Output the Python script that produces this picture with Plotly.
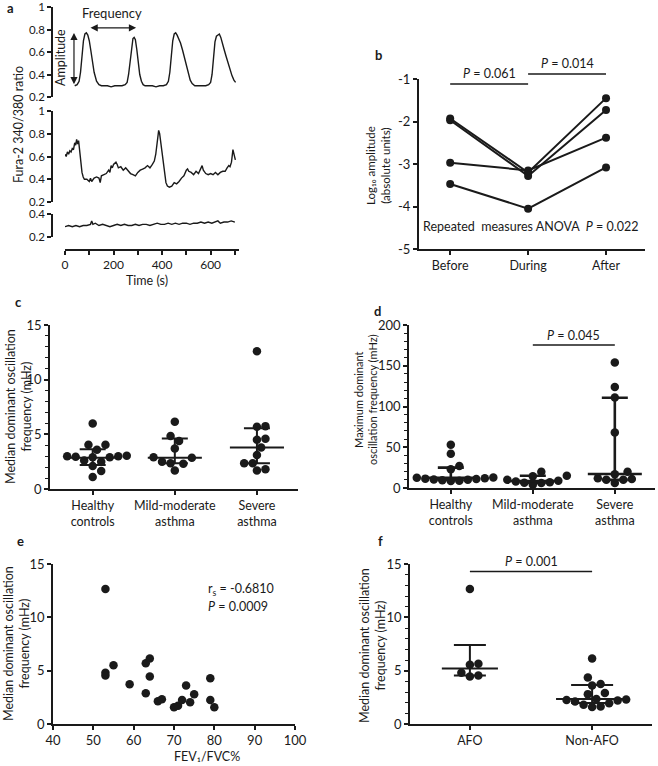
import plotly.graph_objects as go

# ---------------- data ----------------
# panel a: Fura-2 340/380 ratio traces
a_t1 = [40, 50, 58, 64, 70, 76, 82, 88, 94, 100, 106, 112, 120, 130, 140, 150, 160, 175, 190, 205,
        220, 235, 248, 256, 262, 268, 274, 280, 285, 290, 296, 302, 308, 315, 322, 330, 345, 360, 375, 390,
        405, 418, 426, 432, 438, 444, 450, 456, 462, 468, 476, 484, 492, 500, 508, 516, 524, 535, 550, 565,
        580, 592, 600, 606, 612, 618, 624, 630, 636, 642, 648, 656, 664, 672, 680, 688, 696, 703]
a_v1 = [0.30, 0.31, 0.34, 0.42, 0.56, 0.70, 0.76, 0.77, 0.75, 0.70, 0.62, 0.53, 0.42, 0.34, 0.31, 0.30, 0.30, 0.30, 0.29, 0.30,
        0.30, 0.30, 0.31, 0.33, 0.40, 0.52, 0.65, 0.72, 0.73, 0.71, 0.62, 0.50, 0.40, 0.34, 0.31, 0.30, 0.30, 0.30, 0.29, 0.30,
        0.30, 0.31, 0.34, 0.42, 0.56, 0.70, 0.76, 0.77, 0.75, 0.72, 0.68, 0.62, 0.55, 0.47, 0.40, 0.35, 0.32, 0.30, 0.30, 0.30,
        0.30, 0.31, 0.33, 0.40, 0.55, 0.69, 0.74, 0.75, 0.76, 0.73, 0.67, 0.62, 0.56, 0.50, 0.44, 0.39, 0.35, 0.33]
a_t2 = [0, 5, 10, 15, 20, 25, 30, 35, 40, 44, 48, 52, 56, 60, 65, 70, 75, 80, 90, 100,
        105, 110, 120, 130, 140, 145, 150, 160, 170, 180, 185, 190, 195, 200, 210, 215, 220, 230, 240, 250,
        260, 270, 280, 290, 300, 310, 320, 330, 340, 350, 360, 368, 374, 380, 386, 390, 395, 400, 405, 410,
        416, 422, 430, 440, 450, 460, 470, 480, 490, 500, 505, 510, 520, 530, 540, 550, 560, 565, 570, 580,
        590, 600, 610, 620, 630, 640, 650, 660, 668, 675, 680, 686, 692, 697, 702]
a_v2 = [0.62, 0.60, 0.64, 0.62, 0.65, 0.64, 0.67, 0.66, 0.72, 0.70, 0.75, 0.71, 0.74, 0.66, 0.55, 0.46, 0.42, 0.40, 0.40, 0.38,
        0.41, 0.38, 0.41, 0.42, 0.41, 0.37, 0.43, 0.44, 0.45, 0.48, 0.46, 0.52, 0.50, 0.53, 0.55, 0.53, 0.50, 0.51, 0.48, 0.50,
        0.47, 0.45, 0.44, 0.43, 0.46, 0.48, 0.49, 0.50, 0.52, 0.50, 0.53, 0.56, 0.62, 0.72, 0.83, 0.80, 0.72, 0.62, 0.52, 0.44,
        0.37, 0.34, 0.33, 0.34, 0.37, 0.36, 0.38, 0.41, 0.43, 0.48, 0.49, 0.47, 0.46, 0.44, 0.47, 0.45, 0.50, 0.52, 0.48, 0.45,
        0.44, 0.45, 0.44, 0.46, 0.44, 0.46, 0.47, 0.47, 0.50, 0.52, 0.51, 0.55, 0.66, 0.62, 0.57]
a_t3 = [0, 15, 30, 45, 60, 75, 90, 105, 110, 115, 125, 140, 155, 170, 185, 200, 215, 230, 245, 260,
        275, 290, 305, 320, 335, 350, 365, 380, 395, 410, 425, 440, 455, 470, 485, 500, 515, 530, 545, 560,
        575, 590, 605, 620, 630, 640, 655, 670, 685, 700]
a_v3 = [0.29, 0.30, 0.29, 0.30, 0.29, 0.30, 0.30, 0.31, 0.34, 0.31, 0.32, 0.30, 0.31, 0.30, 0.29, 0.30, 0.31, 0.30, 0.31, 0.30,
        0.30, 0.31, 0.30, 0.31, 0.31, 0.30, 0.31, 0.32, 0.31, 0.31, 0.32, 0.31, 0.32, 0.31, 0.32, 0.32, 0.31, 0.32, 0.32, 0.33,
        0.32, 0.33, 0.32, 0.33, 0.34, 0.32, 0.33, 0.33, 0.34, 0.33]
a_time_ticks = [0, 100, 200, 300, 400, 500, 600, 700]
a_time_labels = ['0', '', '200', '', '400', '', '600', '']
a_ratio_ticks = [0.2, 0.4, 0.6, 0.8, 1.0]
a_ratio_labels = ['0.2', '0.4', '0.6', '0.8', '1']
a_amp_low, a_amp_high, a_amp_time = 0.30, 0.77, 37
a_freq_start, a_freq_end, a_freq_level = 99, 293, 0.815

# panel b: log10 amplitude, before / during / after
b_phases = ['Before', 'During', 'After']
b_subject1 = [-1.93, -3.20, -1.45]
b_subject2 = [-1.97, -3.28, -1.73]
b_subject3 = [-2.97, -3.15, -2.38]
b_subject4 = [-3.47, -4.05, -3.08]
b_yticks = [-1, -2, -3, -4, -5]

# panel c: median dominant oscillation frequency (mHz)
c_groups = ['Healthy<br>controls', 'Mild-moderate<br>asthma', 'Severe<br>asthma']
c_healthy = [6.0, 4.05, 4.05, 3.6, 3.05, 3.0, 3.0, 2.95, 2.9, 2.9, 2.6, 2.5, 2.1, 1.65, 1.1]
c_mild = [6.15, 4.85, 4.4, 3.7, 2.9, 2.85, 2.5, 2.35, 2.3, 1.7]
c_severe = [12.6, 5.75, 5.7, 4.6, 4.5, 3.8, 3.1, 2.35, 2.35, 1.8, 1.7]
c_median = [2.86, 2.86, 3.8]
c_q1 = [2.2, 2.35, 2.35]
c_q3 = [3.63, 4.63, 5.55]

# panel d: maximum dominant oscillation frequency (mHz)
d_groups = ['Healthy<br>controls', 'Mild-moderate<br>asthma', 'Severe<br>asthma']
d_healthy = [53, 42, 27, 23, 14, 13, 12.5, 12, 11.5, 11, 10.5, 10, 9.5, 9, 8.5]
d_mild = [20, 15, 14.5, 10, 9, 8, 7, 6.5, 6, 4]
d_severe = [154, 124, 111, 68, 20, 17, 12, 11, 10, 10, 6]
d_median = [12.5, 8.6, 17.2]
d_q1 = [10, 6.5, 10]
d_q3 = [25, 15, 110.8]
d_p_level = 175.5

# panel e: FEV1/FVC% vs median frequency
e_fev = [53, 53, 53, 55, 59, 63, 64, 64, 63, 66, 67, 70, 71, 72, 73, 74, 75, 79, 79, 80]
e_freq = [12.65, 4.8, 4.55, 5.5, 3.73, 5.7, 6.15, 4.45, 2.88, 2.13, 2.32, 1.57, 1.72, 2.25, 3.6, 2.04, 2.79, 4.29, 2.25, 1.57]

# panel f: AFO vs non-AFO
f_groups = ['AFO', 'Non-AFO']
f_afo = [12.65, 5.65, 5.55, 4.8, 4.55, 4.45]
f_non = [6.15, 4.35, 3.75, 3.6, 2.9, 2.8, 2.35, 2.3, 2.25, 2.2, 2.1, 1.95, 1.8, 1.65, 1.6]
f_median = [5.2, 2.35]
f_q1 = [4.55, 1.97]
f_q3 = [7.4, 3.66]
f_p_level = 14.3

# ---------------- helpers ----------------
W, H = 658, 766
FONT = 'Lato'
INK = '#1a1a1a'


def fx(p):
    return p / W


def fy(p):
    return 1 - p / H


def dx(a, b):
    return [a / W, b / W]


def dy(top, bot):
    return [1 - bot / H, 1 - top / H]


def swarm(vals, center, ypx, xpx, d=8.5):
    """Simple beeswarm: offsets computed so markers do not overlap."""
    placed = []
    xs = [center] * len(vals)
    order = sorted(range(len(vals)), key=lambda i: vals[i])
    cands = [0.0]
    for j in range(1, 30):
        cands += [j * d * 0.5, -j * d * 0.5]
    for i in order:
        y = vals[i] * ypx
        for off in cands:
            if all((off - px) ** 2 + (y - py) ** 2 >= (d * 0.97) ** 2 for px, py in placed):
                placed.append((off, y))
                xs[i] = center + off / xpx
                break
    return xs


def axis(**kw):
    base = dict(showgrid=False, zeroline=False, showline=True, linecolor=INK, linewidth=1.5,
                ticks='outside', ticklen=4, tickwidth=1.5, tickcolor=INK, automargin=False,
                ticklabeloverflow='allow',
                tickfont=dict(family=FONT, size=13, color=INK), fixedrange=True)
    base.update(kw)
    return base


fig = go.Figure()

# ---------------- panel a ----------------
for t, v, ya in [(a_t1, a_v1, 'y'), (a_t2, a_v2, 'y2'), (a_t3, a_v3, 'y3')]:
    fig.add_trace(go.Scatter(x=t, y=v, mode='lines', line=dict(color=INK, width=1.4),
                             xaxis='x', yaxis=ya, hoverinfo='skip'))

# ---------------- panel b ----------------
b_pos = list(range(len(b_phases)))
for s in [b_subject1, b_subject2, b_subject3, b_subject4]:
    fig.add_trace(go.Scatter(x=b_pos, y=s, mode='lines+markers', line=dict(color=INK, width=2),
                             marker=dict(color=INK, size=8), xaxis='x2', yaxis='y4', cliponaxis=False))


# ---------------- scatter-dot panels ----------------
def dot_panel(sets, med, q1, q3, xa, ya, ypx, xpx, halfw_px, cap_px, thick):
    for i, vals in enumerate(sets):
        xs = swarm(vals, i, ypx, xpx)
        fig.add_trace(go.Scatter(x=xs, y=vals, mode='markers', marker=dict(color=INK, size=8.5),
                                 xaxis=xa, yaxis=ya, cliponaxis=False))
    for i in range(len(sets)):
        hw = halfw_px[i] if isinstance(halfw_px, list) else halfw_px
        cp = cap_px[i] if isinstance(cap_px, list) else cap_px
        fig.add_trace(go.Scatter(
            x=[i], y=[med[i]], mode='markers', marker=dict(size=1, opacity=0),
            error_y=dict(type='data', symmetric=False, array=[q3[i] - med[i]], arrayminus=[med[i] - q1[i]],
                         width=cp, thickness=thick, color=INK),
            error_x=dict(type='constant', value=hw / xpx, width=0, thickness=thick, color=INK),
            xaxis=xa, yaxis=ya, cliponaxis=False))


dot_panel([c_healthy, c_mild, c_severe], c_median, c_q1, c_q3, 'x3', 'y5', 164 / 15, 82, 27, 13, 2)
dot_panel([d_healthy, d_mild, d_severe], d_median, d_q1, d_q3, 'x4', 'y6', 163 / 200, 82, 27, 13, 2.6)
dot_panel([f_afo, f_non], f_median, f_q1, f_q3, 'x6', 'y8', 160 / 15, 122, [28, 36], [16, 21], 2)

# ---------------- panel e ----------------
fig.add_trace(go.Scatter(x=e_fev, y=e_freq, mode='markers', marker=dict(color=INK, size=8.5),
                         xaxis='x5', yaxis='y7', cliponaxis=False))

# ---------------- layout ----------------
minor1 = dict(tickmode='linear', tick0=0, dtick=1, ticks='outside', ticklen=3, tickwidth=1, tickcolor=INK)
minor10 = dict(tickmode='linear', tick0=0, dtick=10, ticks='outside', ticklen=3, tickwidth=1, tickcolor=INK)
cat_font = dict(family=FONT, size=12.5, color=INK)
a_font = dict(family=FONT, size=11.5, color=INK)

layout = dict(
    width=W, height=H, margin=dict(l=0, r=0, t=0, b=0, autoexpand=False),
    paper_bgcolor='white', plot_bgcolor='white', showlegend=False,
    font=dict(family=FONT, color=INK),
    # panel a
    xaxis=axis(domain=dx(65, 239), range=[0, 717], anchor='free', position=fy(250),
               tickmode='array', tickvals=a_time_ticks, ticktext=a_time_labels, tickfont=dict(family=FONT, size=12, color=INK)),
    yaxis=axis(domain=dy(7, 97), range=[0.2, 1.0], anchor='free', position=fx(52),
               tickmode='array', tickvals=a_ratio_ticks, ticktext=a_ratio_labels, tickfont=a_font),
    yaxis2=axis(domain=dy(111, 202), range=[0.2, 1.0], anchor='free', position=fx(52),
                tickmode='array', tickvals=a_ratio_ticks, ticktext=a_ratio_labels, tickfont=a_font),
    yaxis3=axis(domain=dy(214, 237), range=[0.2, 0.4], anchor='free', position=fx(52),
                tickmode='array', tickvals=[0.2, 0.4], ticktext=['0.2', '0.4'], tickfont=a_font),
    # panel b
    xaxis2=axis(domain=dx(419, 645), range=[-0.4, 2.5], anchor='y4', linewidth=2,
                tickmode='array', tickvals=b_pos, ticktext=b_phases, tickfont=cat_font),
    yaxis4=axis(domain=dy(79, 249), range=[-5, -1], anchor='x2', linewidth=2,
                tickmode='array', tickvals=b_yticks, ticktext=[str(v) for v in b_yticks]),
    # panel c
    xaxis3=axis(domain=dx(50, 298), range=[-0.52, 2.5], anchor='y5',
                tickmode='array', tickvals=[0, 1, 2], ticktext=c_groups, tickfont=cat_font),
    yaxis5=axis(domain=dy(325, 489), range=[0, 15], anchor='x3',
                tickmode='array', tickvals=[0, 5, 10, 15], minor=minor1),
    # panel d
    xaxis4=axis(domain=dx(409, 655), range=[-0.51, 2.49], anchor='y6',
                tickmode='array', tickvals=[0, 1, 2], ticktext=d_groups, tickfont=cat_font),
    yaxis6=axis(domain=dy(325, 488), range=[0, 200], anchor='x4',
                tickmode='array', tickvals=[0, 50, 100, 150, 200], minor=minor10),
    # panel e
    xaxis5=axis(domain=dx(53, 295), range=[40, 100], anchor='y7',
                tickmode='array', tickvals=[40, 50, 60, 70, 80, 90, 100]),
    yaxis7=axis(domain=dy(564, 724), range=[0, 15], anchor='x5',
                tickmode='array', tickvals=[0, 5, 10, 15]),
    # panel f
    xaxis6=axis(domain=dx(410, 652), range=[-0.49, 1.49], anchor='y8',
                tickmode='array', tickvals=[0, 1], ticktext=f_groups, tickfont=cat_font),
    yaxis8=axis(domain=dy(564, 724), range=[0, 15], anchor='x6',
                tickmode='array', tickvals=[0, 5, 10, 15], minor=minor1),
)

ann = []


def txt(text, x, y, size=12.5, angle=0, xanchor='center', yanchor='middle', **kw):
    d = dict(text=text, x=x, y=y, xref='paper', yref='paper', showarrow=False, textangle=angle,
             xanchor=xanchor, yanchor=yanchor, font=dict(family=FONT, size=size, color=INK))
    d.update(kw)
    ann.append(d)


# panel letters
for letter, px, py in [('a', 10, 8), ('b', 378, 55), ('c', 18, 302), ('d', 377, 311), ('e', 20, 541), ('f', 380, 541)]:
    txt('<b>%s</b>' % letter, fx(px), fy(py), size=13)

# y-axis titles
txt('Fura-2 340/380 ratio', fx(19), fy(125), size=12.5, angle=-90)
txt('Log₁₀ amplitude<br>(absolute units)', fx(378), fy(166), size=11.5, angle=-90)
txt('Median dominant oscillation<br>frequency (mHz)', fx(18), fy(407), size=12.5, angle=-90)
txt('Maximum dominant<br>oscillation frequency (mHz)', fx(365), fy(399), size=11, angle=-90)
txt('Median dominant oscillation<br>frequency (mHz)', fx(16), fy(644), size=12.5, angle=-90)
txt('Median dominant oscillation<br>frequency (mHz)', fx(372), fy(646), size=12.5, angle=-90)

# x-axis titles
txt('Time (s)', fx(147), fy(280), size=12.5)
txt('FEV₁/FVC%', fx(207), fy(756), size=12.5)

# panel a annotations
txt('Frequency', fx(112), fy(13), size=13)
txt('Amplitude', fx(60), fy(58), size=12.5, angle=-90)
ann.append(dict(x=a_freq_end, y=a_freq_level, ax=a_freq_start, ay=a_freq_level, xref='x', yref='y',
                axref='x', ayref='y', text='', showarrow=True, arrowhead=2, startarrowhead=2,
                arrowside='end+start', arrowwidth=1.2, arrowsize=1.2, startarrowsize=1.2, arrowcolor=INK))
ann.append(dict(x=a_amp_time, y=a_amp_high, ax=a_amp_time, ay=a_amp_low, xref='x', yref='y',
                axref='x', ayref='y', text='', showarrow=True, arrowhead=2, startarrowhead=2,
                arrowside='end+start', arrowwidth=1.2, arrowsize=1.2, startarrowsize=1.2, arrowcolor=INK))

# panel b annotations
ann.append(dict(text='<i>P</i> = 0.061', x=0.5, y=fy(83), xref='x2', yref='paper', showarrow=False,
                yanchor='bottom', font=dict(family=FONT, size=12.5, color=INK)))
ann.append(dict(text='<i>P</i> = 0.014', x=1.5, y=fy(73), xref='x2', yref='paper', showarrow=False,
                yanchor='bottom', font=dict(family=FONT, size=12.5, color=INK)))
txt('Repeated  measures ANOVA  <i>P</i> = 0.022', fx(530), fy(226), size=12.5)

# panel d / f annotations
ann.append(dict(text='<i>P</i> = 0.045', x=1.5, y=d_p_level, xref='x4', yref='y6', showarrow=False,
                yanchor='bottom', yshift=0, font=dict(family=FONT, size=12.5, color=INK)))
ann.append(dict(text='<i>P</i> = 0.001', x=0.5, y=f_p_level, xref='x6', yref='y8', showarrow=False,
                yanchor='bottom', yshift=0, font=dict(family=FONT, size=12.5, color=INK)))

# panel e annotations
txt('r<sub>s</sub> = -0.6810', fx(206), fy(589), size=12.5, xanchor='left')
txt('<i>P</i> = 0.0009', fx(206), fy(606), size=12.5, xanchor='left')

layout['annotations'] = ann

shp_line = dict(color=INK, width=1.5)
layout['shapes'] = [
    dict(type='line', xref='x2', yref='paper', x0=0, x1=1, y0=fy(84), y1=fy(84), line=shp_line),
    dict(type='line', xref='x2', yref='paper', x0=1, x1=2, y0=fy(74), y1=fy(74), line=shp_line),
    dict(type='line', xref='x4', yref='y6', x0=1, x1=2, y0=d_p_level, y1=d_p_level, line=shp_line),
    dict(type='line', xref='x6', yref='y8', x0=0, x1=1, y0=f_p_level, y1=f_p_level, line=shp_line),
]

fig.update_layout(**layout)
fig.write_html('out.html', config={'displayModeBar': False},
               post_script="document.body.style.margin='0';document.body.style.padding='0';")
